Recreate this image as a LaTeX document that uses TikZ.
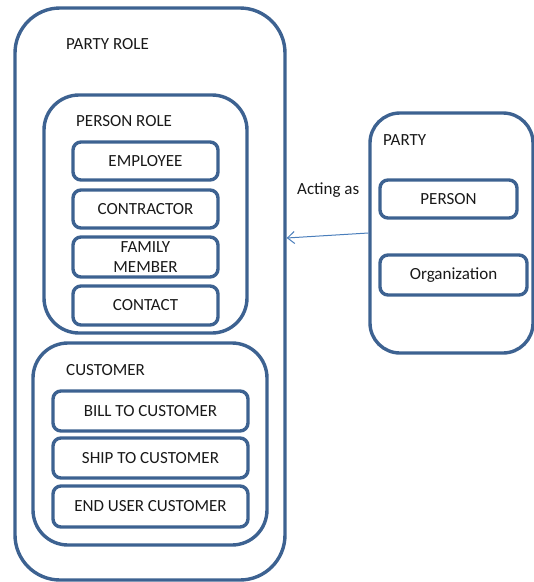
\documentclass[tikz,border=0pt]{standalone}
\usepackage{fontspec}
\setmainfont{Carlito}
\usetikzlibrary{arrows.meta}
\definecolor{boxblue}{HTML}{3D6291}
\definecolor{arrowblue}{HTML}{4A7EBB}
\begin{document}
\begin{tikzpicture}[x=1pt,y=-1pt,
  every node/.style={font=\fontsize{17}{20.5}\selectfont, text=black!90},
  bigbox/.style={draw=boxblue, line width=3.4pt, rectangle, rounded corners=#1, inner sep=0pt},
  item/.style={draw=boxblue, line width=3.4pt, rectangle, rounded corners=8pt, inner sep=0pt, align=center},
  lbl/.style={anchor=base west, inner sep=0pt}]
\useasboundingbox (0,0) rectangle (534,582);
% outer party role
\node[bigbox=45pt, minimum width=270pt, minimum height=572pt] (role) at (150,294) {};
\node[lbl] (rolelbl) at (66,49.5) {PARTY ROLE};
% person role
\node[bigbox=35pt, minimum width=203pt, minimum height=238pt] (prole) at (145.5,214) {};
\node[lbl] (prolelbl) at (76,126) {PERSON ROLE};
\node[item, minimum width=145pt, minimum height=38pt] (emp) at (145.5,161) {EMPLOYEE};
\node[item, minimum width=145pt, minimum height=38pt] (con) at (145.5,209) {CONTRACTOR};
\node[item, minimum width=145pt, minimum height=40pt] (fam) at (145.5,257) {FAMILY\\MEMBER};
\node[item, minimum width=145pt, minimum height=39pt] (cont) at (145.5,305.5) {CONTACT};
% customer
\node[bigbox=35pt, minimum width=234pt, minimum height=202pt] (cust) at (150,444) {};
\node[lbl] (custlbl) at (66,375) {CUSTOMER};
\node[item, minimum width=195pt, minimum height=40pt] (bill) at (150.5,411) {BILL TO CUSTOMER};
\node[item, minimum width=195pt, minimum height=40pt] (ship) at (150.5,458) {SHIP TO CUSTOMER};
\node[item, minimum width=195pt, minimum height=41pt] (end) at (150.5,506.5) {END USER CUSTOMER};
% party
\node[bigbox=30pt, minimum width=163pt, minimum height=240pt] (party) at (451.5,233) {};
\node[lbl] (partylbl) at (383,145) {PARTY};
\node[item, minimum width=137pt, minimum height=38pt] (person) at (448.5,199) {PERSON};
\node[item, minimum width=147pt, minimum height=40pt] (org) at (453.5,275) {Organization};
% arrow
\node[lbl] (acting) at (297,194) {Acting as};
\coordinate (tip) at (0,238);
\draw[arrowblue, line width=1pt, -{Straight Barb[length=7pt,width=12pt]}] (party.west) -- (role.east |- tip);
\end{tikzpicture}
\end{document}
